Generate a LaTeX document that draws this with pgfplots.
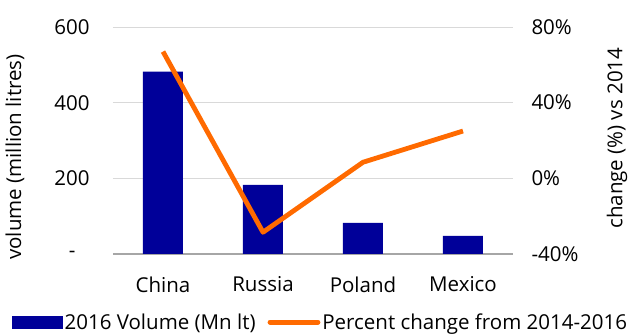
\documentclass[border=0pt]{standalone}
\usepackage{fontspec}
\setmainfont{Open Sans}
\usepackage{pgfplots}
\pgfplotsset{compat=1.18}
\definecolor{barblue}{HTML}{000099}
\definecolor{lineorange}{HTML}{FF6A00}
\definecolor{gridgray}{HTML}{D9D9D9}
\definecolor{basegray}{HTML}{A6A6A6}
\begin{document}
\begin{tikzpicture}[font=\fontsize{20.5bp}{23bp}\selectfont]
\path[use as bounding box] (-113bp,-80bp) rectangle (522bp,254bp);
\pgfplotsset{every axis/.append style={
  scale only axis, width=400bp, height=227bp,
  xmin=-0.5, xmax=3.5,
  major tick length=0pt,
  /pgf/number format/assume math mode=true,
  tick label style={font=\fontsize{20.5bp}{23bp}\selectfont},
  label style={font=\fontsize{20.5bp}{23bp}\selectfont},
}}
\begin{axis}[
  ymin=0, ymax=600,
  axis line style={draw=none},
  xtick={0,1,2,3}, xticklabels={China,Russia,Poland,Mexico},
  x tick label style={yshift=-19bp},
  ytick={0,200,400,600}, yticklabels={-\hspace*{14bp},200,400,600},
  y tick label style={xshift=-20bp},
  ymajorgrids, grid style={draw=gridgray, line width=1pt},
  extra y ticks={0}, extra y tick labels={},
  extra y tick style={grid style={draw=basegray, line width=1.2pt}},
  ylabel={volume (million litres)},
  ylabel style={at={(axis description cs:-0.245,0.427)}, anchor=center, rotate=0},
]
\addplot[ybar, bar width=40bp, fill=barblue, draw=none] coordinates {(0,482) (1,183) (2,82) (3,48)};
\end{axis}
\begin{axis}[
  ymin=-40, ymax=80,
  axis x line=none,
  axis y line*=right,
  axis line style={draw=none},
  ytick={-40,0,40,80},
  yticklabel={\pgfmathprintnumber{\tick}\%},
  y tick label style={xshift=15bp},
  ylabel={change (\%) vs 2014},
  ylabel style={at={(axis description cs:1.26,0.51)}, anchor=center},
  legend columns=2,
  legend style={at={(axis description cs:-0.2525,-0.30)}, anchor=west, draw=none, fill=none, inner sep=0pt,
    font=\fontsize{20.5bp}{23bp}\selectfont,
    /tikz/every even column/.append style={column sep=10bp}},
  legend cell align=left,
]
\addlegendimage{legend image code/.code={\fill[barblue] (0bp,-6bp) rectangle (50bp,6bp);}}
\addlegendentry{2016 Volume (Mn lt)}
\addplot[lineorange, line width=4.8bp, line join=round,
  legend image code/.code={\draw[lineorange, line width=4.8bp, line cap=round] (1bp,0bp) -- (49bp,0bp);}]
  coordinates {(0,67) (1,-28.5) (2,8.5) (3,25)};
\addlegendentry{Percent change from 2014-2016}
\end{axis}
\end{tikzpicture}
\end{document}
